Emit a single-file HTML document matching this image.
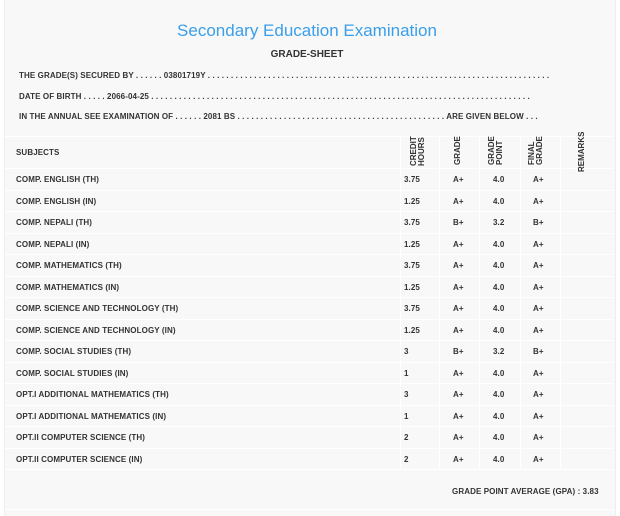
<!DOCTYPE html><html><head><style>
body{margin:0;width:620px;height:516px;background:#fff;font-family:"Liberation Sans",sans-serif;color:#333;position:relative;overflow:hidden}
.box{position:absolute;left:4px;top:0;width:610px;height:516px;background:#f8f8f8;border-left:1px solid #eee;border-right:1px solid #eee}
.a{position:absolute;white-space:nowrap}
.t{font-size:8px;font-weight:bold;letter-spacing:0.1px}
.hl{position:absolute;left:5px;width:609px;height:1px;background:#fff}
.vl{position:absolute;width:1px;background:#fff}
.rot{position:absolute;transform:rotate(-90deg);transform-origin:left top;font-size:8px;font-weight:bold;line-height:8px;text-align:left;white-space:nowrap}
</style></head><body><div class="box"></div>
<div class="a" style="left:0;width:614px;text-align:center;top:21px;font-size:17px;color:#3a9eea">Secondary Education Examination</div>
<div class="a" style="left:0;width:614px;text-align:center;top:49px;font-size:10px;font-weight:bold">GRADE-SHEET</div>
<div class="a t" style="left:19px;top:71px">THE GRADE(S) SECURED BY . . . . . . 03801719Y . . . . . . . . . . . . . . . . . . . . . . . . . . . . . . . . . . . . . . . . . . . . . . . . . . . . . . . . . . . . . . . . . . . . . . . . . .</div>
<div class="a t" style="left:19px;top:92px">DATE OF BIRTH . . . . . 2066-04-25 . . . . . . . . . . . . . . . . . . . . . . . . . . . . . . . . . . . . . . . . . . . . . . . . . . . . . . . . . . . . . . . . . . . . . . . . . . . . . . . . . .</div>
<div class="a t" style="left:19px;top:112px">IN THE ANNUAL SEE EXAMINATION OF . . . . . . 2081 BS . . . . . . . . . . . . . . . . . . . . . . . . . . . . . . . . . . . . . . . . . . . . . ARE GIVEN BELOW . . .</div>
<div class="hl" style="top:136px"></div><div class="hl" style="top:168px"></div>
<div class="vl" style="left:400px;top:136px;height:333px"></div>
<div class="vl" style="left:439px;top:136px;height:333px"></div>
<div class="vl" style="left:479px;top:136px;height:333px"></div>
<div class="vl" style="left:520px;top:136px;height:333px"></div>
<div class="vl" style="left:560px;top:136px;height:333px"></div>
<div class="a t" style="left:16px;top:148px">SUBJECTS</div>
<div class="rot" style="left:410px;top:166px">CREDIT<br>HOURS</div>
<div class="rot" style="left:454px;top:165px">GRADE</div>
<div class="rot" style="left:488px;top:165px">GRADE<br>POINT</div>
<div class="rot" style="left:528px;top:165px">FINAL<br>GRADE</div>
<div class="rot" style="left:578px;top:172px">REMARKS</div>
<div id="rows"></div>
<div class="hl" style="top:509px"></div>
<div class="a t" style="left:452px;top:487px">GRADE POINT AVERAGE (GPA) : 3.83</div>
<script>
var d=[["COMP. ENGLISH (TH)","3.75","A+","4.0"],["COMP. ENGLISH (IN)","1.25","A+","4.0"],["COMP. NEPALI (TH)","3.75","B+","3.2"],["COMP. NEPALI (IN)","1.25","A+","4.0"],["COMP. MATHEMATICS (TH)","3.75","A+","4.0"],["COMP. MATHEMATICS (IN)","1.25","A+","4.0"],["COMP. SCIENCE AND TECHNOLOGY (TH)","3.75","A+","4.0"],["COMP. SCIENCE AND TECHNOLOGY (IN)","1.25","A+","4.0"],["COMP. SOCIAL STUDIES (TH)","3","B+","3.2"],["COMP. SOCIAL STUDIES (IN)","1","A+","4.0"],["OPT.I ADDITIONAL MATHEMATICS (TH)","3","A+","4.0"],["OPT.I ADDITIONAL MATHEMATICS (IN)","1","A+","4.0"],["OPT.II COMPUTER SCIENCE (TH)","2","A+","4.0"],["OPT.II COMPUTER SCIENCE (IN)","2","A+","4.0"]];
var h="";d.forEach(function(r,i){var y=168+i*21.5;var ty=y+7;
h+='<div class="hl" style="top:'+Math.round(y+21.5)+'px"></div>';
h+='<div class="a t" style="left:16px;top:'+ty+'px">'+r[0]+'</div>';
h+='<div class="a t" style="left:404px;top:'+ty+'px">'+r[1]+'</div>';
h+='<div class="a t" style="left:453px;top:'+ty+'px">'+r[2]+'</div>';
h+='<div class="a t" style="left:493px;top:'+ty+'px">'+r[3]+'</div>';
h+='<div class="a t" style="left:533px;top:'+ty+'px">'+r[2]+'</div>';});
document.getElementById("rows").innerHTML=h;
</script></body></html>
